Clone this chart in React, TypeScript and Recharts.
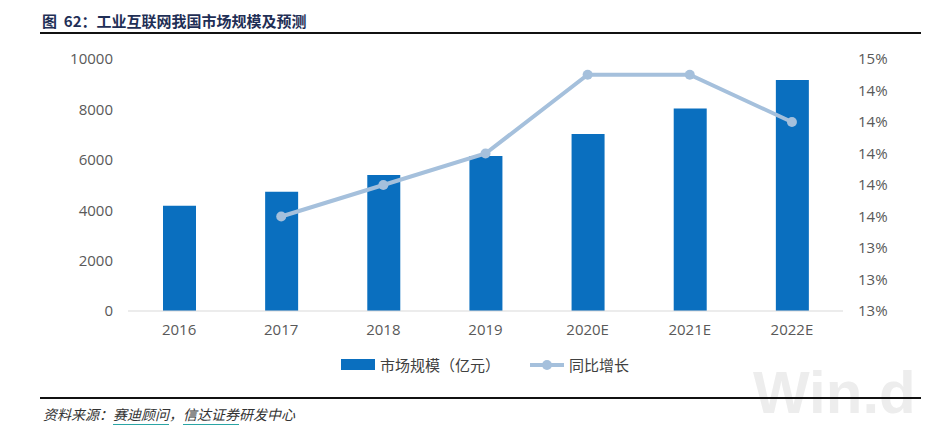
import React from "react";
import { ComposedChart, Bar, Line, XAxis, YAxis } from "recharts";

const years = ["2016", "2017", "2018", "2019", "2020E", "2021E", "2022E"];
const marketSize = [4180, 4730, 5400, 6150, 7020, 8040, 9170];
const yoyGrowth = [null, 13.5, 13.7, 13.9, 14.4, 14.4, 14.1];
const leftTicks = [0, 2000, 4000, 6000, 8000, 10000];
const rightTicks = [12.9, 13.1, 13.3, 13.5, 13.7, 13.9, 14.1, 14.3, 14.5];

const data = years.map((year, i) => ({
  year,
  size: marketSize[i],
  yoy: yoyGrowth[i],
}));

const BAR = "#0a6fbf";
const LINE = "#a5c0dc";
const TICK = "#595959";
const FONT = "'Open Sans', 'Noto Sans CJK SC', sans-serif";

const LegendBox = () => (
  <div
    style={{
      display: "flex",
      alignItems: "center",
      fontFamily: "'Noto Sans CJK SC', sans-serif",
      fontSize: 15,
      color: "#404040",
    }}
  >
    <span style={{ width: 34, height: 11, background: BAR, marginRight: 5 }} />
    <span>市场规模（亿元）</span>
    <svg width={34} height={12} style={{ marginLeft: 30, marginRight: 5 }}>
      <line x1={0} y1={6} x2={34} y2={6} stroke={LINE} strokeWidth={4} />
      <circle cx={17} cy={6} r={5} fill={LINE} />
    </svg>
    <span>同比增长</span>
  </div>
);

export default function App() {
  return (
    <div
      style={{
        position: "absolute",
        left: 0,
        top: 0,
        width: 951,
        height: 433,
        background: "#fff",
        overflow: "hidden",
      }}
    >
      <div
        style={{
          position: "absolute",
          left: 42,
          top: 10,
          fontFamily: "'Noto Sans CJK SC', sans-serif",
          fontWeight: 700,
          fontSize: 15,
          color: "#1f2f56",
          whiteSpace: "nowrap",
        }}
      >
        图&nbsp;&nbsp;62：工业互联网我国市场规模及预测
      </div>
      <div
        style={{
          position: "absolute",
          left: 40,
          top: 32,
          width: 881,
          height: 2,
          background: "#111",
        }}
      />
      <div
        style={{
          position: "absolute",
          left: 753,
          top: 358,
          fontFamily: "'Liberation Sans', sans-serif",
          fontWeight: 700,
          fontSize: 60,
          lineHeight: "69px",
          color: "#ededed",
          whiteSpace: "nowrap",
        }}
      >
        Win.d
      </div>
      <div style={{ position: "absolute", left: 0, top: 0 }}>
        <ComposedChart
          width={951}
          height={433}
          data={data}
          margin={{ top: 59, right: 0, bottom: 92, left: 0 }}
        >
          <XAxis
            dataKey="year"
            height={30}
            axisLine={{ stroke: "#d9d9d9" }}
            tickLine={false}
            tickMargin={7}
            tick={{ fill: TICK, fontSize: 15, fontFamily: FONT }}
          />
          <YAxis
            yAxisId="left"
            width={128}
            domain={[0, 10000]}
            ticks={leftTicks}
            axisLine={false}
            tickLine={false}
            tickMargin={9}
            tick={{ fill: TICK, fontSize: 15, fontFamily: FONT }}
          />
          <YAxis
            yAxisId="right"
            orientation="right"
            width={108}
            domain={[12.9, 14.5]}
            ticks={rightTicks}
            axisLine={false}
            tickLine={false}
            tickMargin={9}
            tickFormatter={(v: number) => `${Math.round(v + 1e-6)}%`}
            tick={{ fill: TICK, fontSize: 15, fontFamily: FONT, textAnchor: "start" }}
          />
          <Bar
            yAxisId="left"
            dataKey="size"
            fill={BAR}
            barSize={33}
            isAnimationActive={false}
          />
          <Line
            yAxisId="right"
            dataKey="yoy"
            stroke={LINE}
            strokeWidth={4}
            dot={{ r: 5, fill: LINE, stroke: LINE, strokeWidth: 0 }}
            activeDot={false}
            connectNulls={false}
            isAnimationActive={false}
          />
        </ComposedChart>
      </div>
      <div style={{ position: "absolute", left: 341, top: 354 }}>
        <LegendBox />
      </div>
      <div
        style={{
          position: "absolute",
          left: 40,
          top: 397,
          width: 881,
          height: 2,
          background: "#111",
        }}
      />
      <div
        style={{
          position: "absolute",
          left: 43,
          top: 404,
          fontFamily: "'Noto Sans CJK SC', serif",
          fontStyle: "italic",
          fontSize: 14,
          color: "#333",
          whiteSpace: "nowrap",
        }}
      >
        资料来源：
        <span style={{ borderBottom: "1.5px solid #2aa5a5" }}>赛迪顾问</span>，
        <span style={{ borderBottom: "1.5px solid #2aa5a5" }}>信达证券</span>
        研发中心
      </div>
    </div>
  );
}
